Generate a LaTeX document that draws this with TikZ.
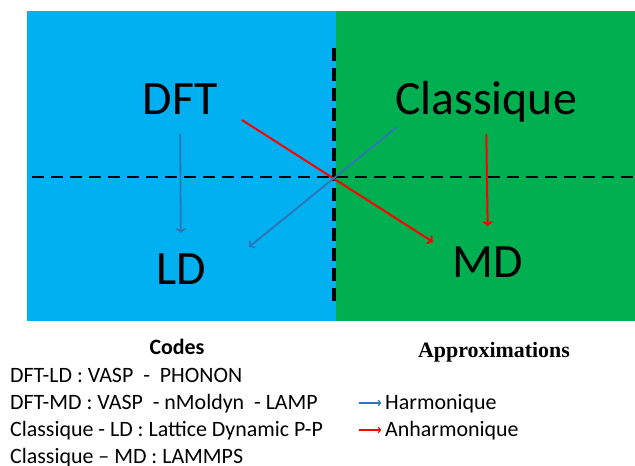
\documentclass[tikz,border=0pt]{standalone}
\usepackage{fontspec}
\usetikzlibrary{arrows.meta}
\setmainfont{Carlito}
\newfontfamily\approxfont{Liberation Serif}
\definecolor{panelblue}{RGB}{0,176,240}
\definecolor{panelgreen}{RGB}{0,176,80}
\definecolor{harmblue}{RGB}{46,117,182}
\definecolor{anharmred}{RGB}{255,0,0}

\begin{document}
\begin{tikzpicture}[x=1bp,y=-1bp,>={To[length=5bp,width=10bp]},
  harm/.style={->,color=harmblue,line width=1.8bp},
  anharm/.style={->,color=anharmred,line width=2bp},
  method/.style={inner sep=0pt,anchor=base,font=\fontsize{48}{58}\selectfont},
  codeline/.style={inner sep=0pt,anchor=base west,font=\fontsize{22}{27}\selectfont}]
  \useasboundingbox (0,0) rectangle (635,466);
  % The two families of methods, split by the dashed lines.
  \fill[panelblue] (27,11) rectangle (336,321);
  \fill[panelgreen] (336,11) rectangle (635,321);
  \draw[line width=4bp,dash pattern=on 13bp off 7bp] (334,48) -- (334,305);
  \draw[line width=2.5bp,dash pattern=on 12bp off 7bp] (32,177) -- (635,177);
  \node[method] (dft) at (180,115) {DFT};
  \node[method] (classique) at (486,115) {Classique};
  \node[method] (ld) at (181,285) {LD};
  \node[method] (md) at (488,278) {MD};
  \draw[harm,shorten <=19bp,shorten >=21bp] (dft.base) -- (ld.north);
  \draw[anharm,shorten <=19bp,shorten >=21bp] (classique.base) -- (md.north);
  \coordinate (redtail) at (242,120);
  \coordinate (redhead) at (433,242);
  \coordinate (bluetail) at (397,127);
  \coordinate (bluehead) at (249,247);
  \draw[anharm] (redtail) -- (redhead);
  \draw[harm] (bluetail) -- (bluehead);
  % Legend below the panels.
  \node[inner sep=0pt,anchor=base,font=\fontsize{22}{27}\selectfont\bfseries] (codes) at (177,354) {Codes};
  \node[inner sep=0pt,anchor=base,font=\fontsize{22}{26}\selectfont\approxfont\bfseries] (approx) at (494,357) {Approximations};
  \node[codeline] (dftld) at (10,382) {DFT-LD : VASP\ \ -\ \ PHONON};
  \node[codeline] (dftmd) at (10,409) {DFT-MD : VASP\ \ - nMoldyn\ \ - LAMP};
  \node[codeline] (classld) at (10,436) {Classique - LD : Lattice Dynamic P-P};
  \node[codeline] (classmd) at (10,463) {Classique -- MD : LAMMPS};
  \node[codeline] (harmtxt) at (385,409) {Harmonique};
  \node[codeline] (anharmtxt) at (385,436) {Anharmonique};
  \draw[harm,line width=1.2bp,>={To[length=3bp,width=6bp]}] ([xshift=-26bp,yshift=6bp]harmtxt.base west) -- ([xshift=-4bp,yshift=6bp]harmtxt.base west);
  \draw[anharm,line width=1.2bp,>={To[length=3bp,width=6bp]}] ([xshift=-26bp,yshift=6bp]anharmtxt.base west) -- ([xshift=-4bp,yshift=6bp]anharmtxt.base west);
\end{tikzpicture}
\end{document}
